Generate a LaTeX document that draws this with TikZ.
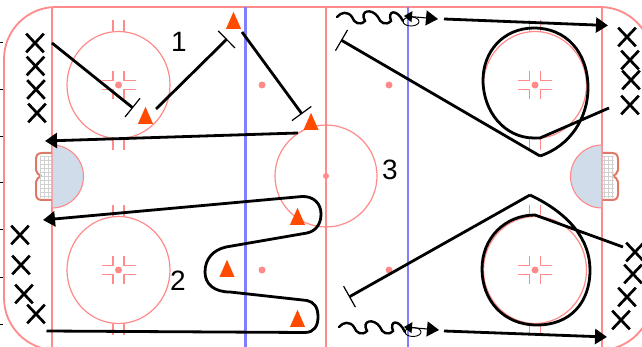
\documentclass[tikz,border=0pt]{standalone}
\usepackage{fontspec}
\setmainfont{Liberation Sans}
\usetikzlibrary{arrows.meta,shapes.geometric,shapes.misc}
\definecolor{rinkred}{HTML}{FF8A8A}
\definecolor{rinkblue}{HTML}{8080FF}
\definecolor{creasefill}{HTML}{D0DCEA}
\definecolor{coneor}{HTML}{FF4A00}
\definecolor{netred}{HTML}{E07868}
\tikzset{
  rink/.style={draw=rinkred,line width=1.2pt},
  zoneblue/.style={draw=rinkblue,line width=2.8pt},
  centrered/.style={draw=rinkred,line width=2.6pt},
  spot/.style={circle,fill=rinkred,inner sep=0pt,minimum size=7pt},
  crease/.style={draw=rinkred,fill=creasefill,line width=1.1pt},
  netframe/.style={draw=netred,line width=2pt,fill=white,line join=round},
  cone/.style={isosceles triangle,isosceles triangle apex angle=44,isosceles triangle stretches,shape border rotate=90,fill=coneor,inner sep=0pt,minimum height=17pt,minimum width=15pt},
  playerx/.style={cross out,draw=black,line width=2.7pt,inner sep=0pt,minimum width=15pt,minimum height=16pt},
  lbl/.style={font=\fontsize{28}{30}\selectfont,inner sep=0pt},
  skate/.style={draw=black,line width=2.8pt},
  tstop/.style={skate,-{Bar[width=24pt,line width=1.2pt]}},
  tstart/.style={skate,{Bar[width=24pt,line width=1.2pt]}-},
  shot/.style={skate,-{Triangle[length=12pt,width=15pt]}},
  waveline/.style={draw=black,line width=2.4pt,line cap=round},
}
\newcommand{\faceoff}[3]{%
  \draw[rink] (#1,#2) ellipse (51.5 and 53.5);
  \foreach \hx in {-5.5,5.5}{
    \draw[rink] (#1+\hx,#2-65) -- (#1+\hx,#2-53.5);
    \draw[rink] (#1+\hx,#2+53.5) -- (#1+\hx,#2+65);
  }
  \foreach \sx in {-1,1}\foreach \sy in {-1,1}{
    \draw[rink] (#1+\sx*17,#2+\sy*4.5) -- (#1+\sx*5.5,#2+\sy*4.5) -- (#1+\sx*5.5,#2+\sy*14);
  }
  \node[spot] (#3) at (#1,#2) {};
}
\newcommand{\wavy}[3]{%
  \draw[waveline] (#1,#2) .. controls (#1+4,#2-5) and (#1+11,#2-6) .. (#1+15,#2)
    .. controls (#1+17,#2+6) and (#1+23,#2+9) .. (#1+28,#2+4)
    .. controls (#1+22,#2-7) and (#1+35,#2-9) .. (#1+41,#2)
    .. controls (#1+43,#2+6) and (#1+49,#2+9) .. (#1+54,#2+4)
    .. controls (#1+50,#2-7) and (#1+60,#2-8) .. (#3);
}
\begin{document}
\begin{tikzpicture}[x=1pt,y=-1pt]
\useasboundingbox (0,0) rectangle (642,347);
\clip (0,0) rectangle (642,347);
\fill[white] (0,0) rectangle (642,347);
% rink
\draw[rink,line width=1.8pt,rounded corners=52pt] (4,7) rectangle (652,350);
\draw[rink] (52,7) -- (52,347);
\draw[rink] (602,7) -- (602,347);
\draw[zoneblue] (245.5,7) -- (245.5,347);
\draw[zoneblue] (408,7) -- (408,347);
\draw[rink] (326,176) circle (51);
\draw[centrered] (326,7) -- (326,347);
\node[spot,minimum size=6pt] (cdot) at (326,176) {};
% nets
\draw[netframe] (52,153) -- (42,153) .. controls (37,153) and (36,156) .. (36,160) -- (36,170) .. controls (36,173) and (39,175) .. (41,176) .. controls (39,177) and (36,179) .. (36,182) -- (36,194) .. controls (36,198) and (38,200) .. (42,200) -- (52,200);
\draw[draw=black!18,line width=.4pt,step=4pt] (40,156) grid (52,198);
\draw[netframe] (602,153) -- (612,153) .. controls (617,153) and (618,156) .. (618,160) -- (618,170) .. controls (618,173) and (615,175) .. (613,176) .. controls (615,177) and (618,179) .. (618,182) -- (618,194) .. controls (618,198) and (616,200) .. (612,200) -- (602,200);
\draw[draw=black!18,line width=.4pt,step=4pt] (602,156) grid (614,198);
% creases
\draw[crease] (52,145) arc[start angle=-90,end angle=90,radius=31.5] -- cycle;
\draw[crease] (602,145) arc[start angle=270,end angle=90,radius=31.5] -- cycle;
% face-off circles
\faceoff{118.5}{85}{fa}
\faceoff{118.5}{270}{fb}
\faceoff{535}{85}{fc}
\faceoff{535}{270}{fd}
\node[spot] (na) at (262,85) {};
\node[spot] (nb) at (262,270) {};
\node[spot] (nc) at (389,85) {};
\node[spot] (nd) at (389,270) {};
% edge ticks
\foreach \ty in {43,90,137,183,230,277,324}{\draw[black,line width=1pt] (0,\ty) -- (2.5,\ty);}
% cones
\node[cone,anchor=south] (c1) at (145.5,124) {};
\node[cone,anchor=south] (c2) at (233.5,29) {};
\node[cone,anchor=south] (c3) at (311,130) {};
\node[cone,anchor=south] (c4) at (297.5,225) {};
\node[cone,anchor=south] (c5) at (227,277) {};
\node[cone,anchor=south] (c6) at (297.5,327) {};
% players
\node[playerx] (x1) at (35,43) {};
\node[playerx] (x2) at (35.5,66) {};
\node[playerx] (x3) at (36,89.5) {};
\node[playerx] (x4) at (37,113) {};
\node[playerx] (x5) at (20,235) {};
\node[playerx] (x6) at (21,265) {};
\node[playerx] (x7) at (24,294) {};
\node[playerx] (x8) at (36,314) {};
\node[playerx] (x9) at (627,37) {};
\node[playerx] (x10) at (630,60) {};
\node[playerx] (x11) at (631,80) {};
\node[playerx] (x12) at (630,105) {};
\node[playerx] (x13) at (635,252) {};
\node[playerx] (x14) at (633,274) {};
\node[playerx] (x15) at (627,297) {};
\node[playerx] (x16) at (621,320) {};
% labels
\node[lbl] (l1) at (179,42) {1};
\node[lbl] (l2) at (178,281) {2};
\node[lbl] (l3) at (390,170) {3};
% connector ends
\coordinate (a0) at (52,43);
\coordinate (a1) at (133,108);
\coordinate (a2) at (156,109);
\coordinate (a3) at (227,39);
\coordinate (a4) at (242,32);
\coordinate (a5) at (302,114);
\coordinate (a6) at (298,133);
\coordinate (a7) at (45,141);
\coordinate (b0) at (46.5,331);
\coordinate (b1) at (43,220);
\coordinate (r0) at (341,40);
\coordinate (r1) at (540,156);
\coordinate (r2) at (609,108);
\coordinate (s0) at (349,297);
\coordinate (s1) at (530,195);
\coordinate (s2) at (623,247);
\coordinate (ta) at (444,19);
\coordinate (tb) at (608,25.5);
\coordinate (ua) at (444,331);
\coordinate (ub) at (607,337);
% drill 1
\draw[tstop] (a0) -- (a1);
\draw[tstop] (a2) -- (a3);
\draw[tstop] (a4) -- (a5);
\draw[shot] (a6) -- (a7);
% drill 2
\draw[shot,line join=round] (b0) -- (305,332.5)
  .. controls (314,332.5) and (318,326) .. (318,317)
  .. controls (318,307) and (314,302) .. (307,300.5)
  -- (230,292)
  .. controls (214,292) and (205,284) .. (205,272)
  .. controls (205,259) and (213,250) .. (226,247)
  -- (307,233)
  .. controls (316,231) and (321,224) .. (321,214)
  .. controls (321,204) and (314,196) .. (302,196.5)
  -- (b1);
% drill 3
\draw[tstart] (r0) -- (r1);
\draw[skate,line join=round] (r1) .. controls (570,146) and (588,118) .. (588,88)
  .. controls (588,52) and (566,28) .. (534,28)
  .. controls (503,28) and (483,52) .. (483,80)
  .. controls (483,112) and (505,138) .. (534,138)
  -- (540,138) -- (r2);
\draw[tstart] (s0) -- (s1);
\draw[skate,line join=round] (s1)
  .. controls (570,214) and (590,240) .. (590,270)
  .. controls (590,303) and (570,325) .. (537,325)
  .. controls (503,325) and (482,300) .. (482,269)
  .. controls (482,238) and (505,215) .. (535,215)
  -- (s2);
% wavy skating with puck
\coordinate (w1) at (403,21);
\coordinate (w2) at (405,332);
\wavy{337}{17}{w1}
\wavy{339}{327}{w2}
\node[draw=black,ellipse,line width=.9pt,inner sep=0pt,minimum width=16pt,minimum height=9pt] (p1) at (411,21.5) {};
\node[draw=black,ellipse,line width=.9pt,inner sep=0pt,minimum width=16pt,minimum height=9pt] (p2) at (413,332) {};
\coordinate (h1) at (438,19);
\coordinate (h2) at (439,330);
\coordinate (h3) at (404,16);
\coordinate (h4) at (404,327);
\draw[draw=black,line width=1.1pt,{Triangle[length=8pt,width=11pt]}-{Triangle[length=12pt,width=15pt]}] (h3) -- (h1);
\draw[draw=black,line width=1.1pt,{Triangle[length=8pt,width=11pt]}-{Triangle[length=12pt,width=15pt]}] (h4) -- (h2);
\draw[shot] (ta) -- (tb);
\draw[shot] (ua) -- (ub);
\end{tikzpicture}
\end{document}
